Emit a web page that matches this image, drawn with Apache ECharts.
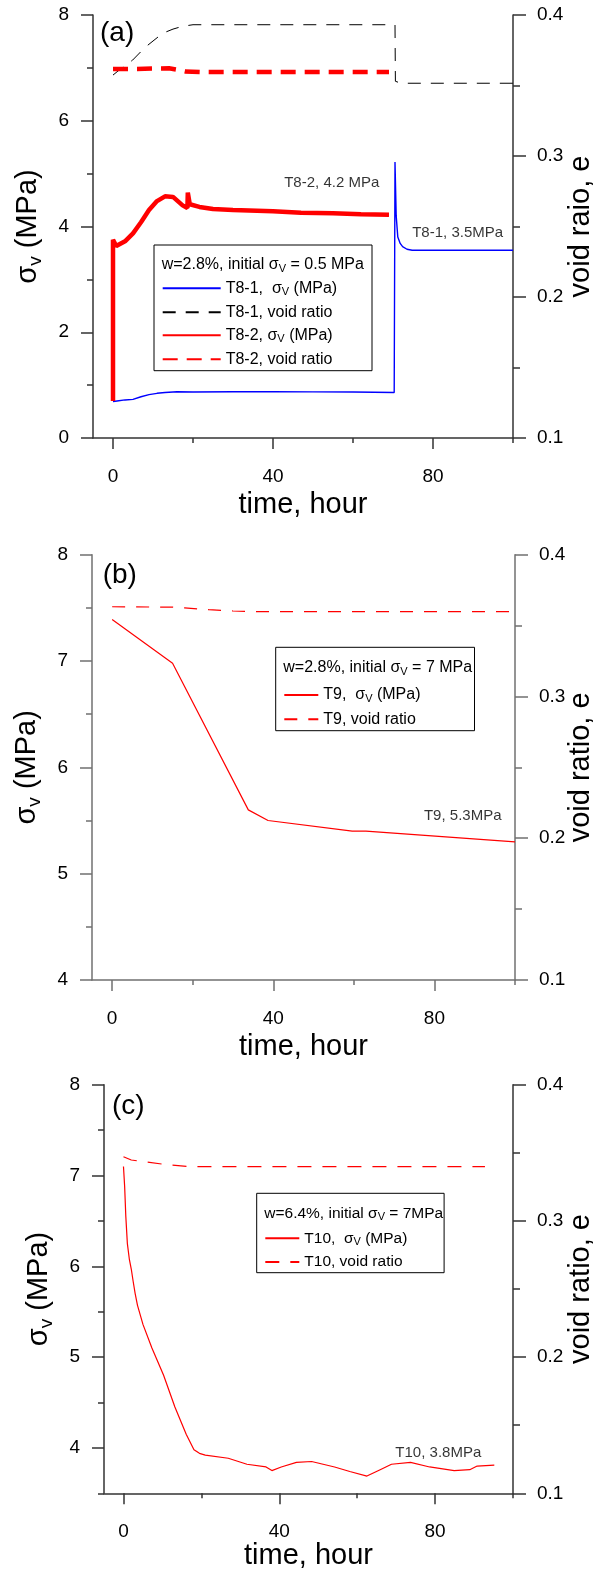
<!DOCTYPE html>
<html>
<head>
<meta charset="utf-8">
<script src="https://cdn.jsdelivr.net/npm/echarts@6/dist/echarts.min.js"></script>
<style>
html,body{margin:0;padding:0;background:#fff;}
#chart{width:596px;height:1573px;}
</style>
</head>
<body>
<div id="chart"></div>
<script>
// ---------------- DATA ----------------
// tick values
const X_MAJOR = [0, 40, 80];
const X_MINOR = [20, 60, 100];
const A_LEFT_MAJOR = [0, 2, 4, 6, 8];
const A_LEFT_MINOR = [1, 3, 5, 7];
const B_LEFT_MAJOR = [4, 5, 6, 7, 8];
const B_LEFT_MINOR = [4.5, 5.5, 6.5, 7.5];
const C_LEFT_MAJOR = [4, 5, 6, 7, 8];
const C_LEFT_MINOR = [3.5, 4.5, 5.5, 6.5, 7.5];
const E_MAJOR = [0.1, 0.2, 0.3, 0.4];
const E_MINOR = [0.15, 0.25, 0.35];

// panel (a): [time (hour), value]
const T8_1_SIGMA = [[0,0.69],[1,0.70],[3,0.72],[5,0.73],[7,0.78],[9,0.82],[11,0.845],[13,0.86],[16,0.875],[20,0.87],[30,0.875],[40,0.878],[50,0.872],[60,0.87],[70.3,0.86],[70.5,5.22],[70.8,4.2],[71.2,3.80],[71.8,3.68],[72.4,3.62],[73.5,3.57],[74.8,3.55],[80,3.55],[100,3.55]];
const T8_1_VOID = [[0,0.3574],[2,0.362],[4.9,0.368],[8,0.377],[12.4,0.387],[15,0.390],[17.4,0.392],[20,0.3931],[40,0.3931],[70.5,0.3931],[70.6,0.353],[72,0.3516],[100,0.3516]];
const T8_2_SIGMA = [[0,0.70],[0,3.75],[0.8,3.63],[3,3.72],[5,3.87],[7,4.08],[9,4.31],[11,4.48],[13,4.57],[15,4.56],[17.4,4.40],[18.6,4.35],[18.7,4.64],[19.2,4.42],[21.6,4.37],[25,4.33],[30,4.31],[40,4.29],[47,4.26],[55,4.25],[62,4.23],[69,4.22]];
const T8_2_VOID = [[0,0.3617],[5,0.3617],[10,0.362],[14,0.3622],[16,0.3612],[18,0.3600],[22,0.3596],[40,0.3596],[69,0.3596]];

// panel (b)
const T9_SIGMA = [[0,7.39],[15,6.98],[33.8,5.60],[38.7,5.50],[59.6,5.40],[63,5.40],[100,5.30]];
const T9_VOID = [[0,0.3633],[15,0.363],[18,0.3625],[24,0.3612],[30,0.3603],[36,0.3598],[99.5,0.3598]];

// panel (c)
const T10_SIGMA = [[0,7.10],[0.3,6.88],[0.6,6.55],[1.0,6.25],[1.5,6.08],[2.0,5.97],[2.5,5.83],[3,5.70],[3.6,5.57],[5,5.36],[7.3,5.10],[10.3,4.80],[13.2,4.45],[16.1,4.15],[18.1,3.98],[19.5,3.94],[21,3.92],[26.9,3.886],[31.7,3.82],[36.6,3.79],[38.1,3.75],[40.5,3.79],[44.4,3.84],[48.3,3.85],[54.2,3.79],[58.1,3.74],[62.5,3.69],[65.9,3.76],[68.8,3.82],[73.7,3.84],[78.6,3.79],[84.9,3.75],[88.9,3.76],[90.8,3.80],[95.2,3.81]];
const T10_VOID = [[0,0.3471],[2,0.3447],[10.3,0.3416],[17.1,0.3398],[50,0.3398],[92.8,0.3398]];

// annotation labels: [time, sigma, text]
const ANNOT_A = [[42.8, 4.82, 'T8-2, 4.2 MPa'], [74.8, 3.875, 'T8-1, 3.5MPa']];
const ANNOT_B = [[77.4, 5.54, 'T9, 5.3MPa']];
const ANNOT_C = [[69.8, 3.947, 'T10, 3.8MPa']];

// ---------------- STYLE / LAYOUT ----------------
const FONT = "'Liberation Sans', Arial, Helvetica, sans-serif";
const GRIDS = [
  {left: 93, top: 15, width: 420, height: 423},
  {left: 92, top: 554.7, width: 423, height: 425.3},
  {left: 104, top: 1084.7, width: 409, height: 408.6}
];
const AXIS_COLORS = ['#333', '#707070', '#333'];
const LEFT_RANGE = [[0, 8], [4, 8], [3.5, 8]];
const LEFT_TICKS = [[A_LEFT_MAJOR, A_LEFT_MINOR], [B_LEFT_MAJOR, B_LEFT_MINOR], [C_LEFT_MAJOR, C_LEFT_MINOR]];
const RIGHT_NAMES = ['void raio, e', 'void ratio, e', 'void ratio, e'];
const X_NAME_GAP = [52, 52, 48];
const RIGHT_NAME_GAP = [53, 51, 53];

const richSub = (big, small, lh) => ({
  n: {fontSize: big, fontFamily: FONT, color: '#000', lineHeight: lh},
  s: {fontSize: small, fontFamily: FONT, color: '#000', lineHeight: Math.round(small * 0.95), verticalAlign: 'bottom'}
});

const xAxis = [], yAxis = [];
GRIDS.forEach((g, i) => {
  const c = AXIS_COLORS[i];
  const line = {color: c, width: 1.5};
  xAxis.push({
    gridIndex: i, type: 'value', min: -5, max: 100, position: 'bottom',
    axisLine: {show: true, onZero: false, lineStyle: line},
    axisTick: {show: true, customValues: X_MAJOR, length: 11, lineStyle: line},
    axisLabel: {show: true, customValues: X_MAJOR, margin: 29, fontSize: 19, color: '#000', fontFamily: FONT},
    splitLine: {show: false},
    name: 'time, hour', nameLocation: 'middle', nameGap: X_NAME_GAP[i], nameMoveOverlap: false,
    nameTextStyle: {fontSize: 29, color: '#000', fontFamily: FONT}
  });
  xAxis.push({
    gridIndex: i, type: 'value', min: -5, max: 100, position: 'bottom',
    axisLine: {show: false, onZero: false},
    axisTick: {show: true, customValues: X_MINOR, length: 5, lineStyle: line},
    axisLabel: {show: false}, splitLine: {show: false}
  });
  const [lmin, lmax] = LEFT_RANGE[i];
  yAxis.push({
    gridIndex: i, type: 'value', min: lmin, max: lmax, position: 'left',
    axisLine: {show: true, onZero: false, lineStyle: line},
    axisTick: {show: true, customValues: LEFT_TICKS[i][0], length: 12, lineStyle: line},
    axisLabel: {show: true, customValues: LEFT_TICKS[i][0], margin: 24, fontSize: 19, color: '#000', fontFamily: FONT},
    splitLine: {show: false},
    name: '{n|σ}{s|v}{n| (MPa)}', nameLocation: 'middle', nameGap: 48, nameMoveOverlap: false,
    nameTextStyle: {rich: richSub(29, 19, 34)}
  });
  yAxis.push({
    gridIndex: i, type: 'value', min: lmin, max: lmax, position: 'left',
    axisLine: {show: false, onZero: false},
    axisTick: {show: true, customValues: LEFT_TICKS[i][1], length: 6, lineStyle: line},
    axisLabel: {show: false}, splitLine: {show: false}
  });
  yAxis.push({
    gridIndex: i, type: 'value', min: 0.1, max: 0.4, position: 'right',
    axisLine: {show: true, onZero: false, lineStyle: line},
    axisTick: {show: true, customValues: E_MAJOR, length: 13, lineStyle: line},
    axisLabel: {show: true, customValues: E_MAJOR, margin: 24, fontSize: 19, color: '#000', fontFamily: FONT,
      formatter: v => v.toFixed(1)},
    splitLine: {show: false},
    name: RIGHT_NAMES[i], nameLocation: 'middle', nameGap: RIGHT_NAME_GAP[i], nameMoveOverlap: false,
    nameTextStyle: {fontSize: 29, color: '#000', fontFamily: FONT}
  });
  yAxis.push({
    gridIndex: i, type: 'value', min: 0.1, max: 0.4, position: 'right',
    axisLine: {show: false, onZero: false},
    axisTick: {show: true, customValues: E_MINOR, length: 7, lineStyle: line},
    axisLabel: {show: false}, splitLine: {show: false}
  });
});

function lineSeries(name, grid, right, data, style) {
  return {
    name, type: 'line', xAxisIndex: grid * 2, yAxisIndex: grid * 4 + (right ? 2 : 0),
    data, showSymbol: false, symbol: 'none', silent: true, animation: false,
    lineStyle: style, z: 3
  };
}
function annotSeries(grid, list) {
  return {
    type: 'scatter', xAxisIndex: grid * 2, yAxisIndex: grid * 4, silent: true, animation: false,
    symbolSize: 0,
    data: list.map(a => ({value: [a[0], a[1]], name: a[2]})),
    label: {show: true, position: 'right', distance: 0, formatter: '{b}', fontSize: 15, color: '#000', fontFamily: FONT}
  };
}

const N = {
  a1s: 'T8-1,  σV (MPa)', a1v: 'T8-1, void ratio', a2s: 'T8-2, σV (MPa)', a2v: 'T8-2, void ratio',
  bs: 'T9,  σV (MPa)', bv: 'T9, void ratio', cs: 'T10,  σV (MPa)', cv: 'T10, void ratio'
};
const LEGEND_RICH = {
  [N.a1s]: '{n|T8-1,  σ}{s|V}{n| (MPa)}', [N.a1v]: '{n|T8-1, void ratio}',
  [N.a2s]: '{n|T8-2, σ}{s|V}{n| (MPa)}', [N.a2v]: '{n|T8-2, void ratio}',
  [N.bs]: '{n|T9,  σ}{s|V}{n| (MPa)}', [N.bv]: '{n|T9, void ratio}',
  [N.cs]: '{n|T10,  σ}{s|V}{n| (MPa)}', [N.cv]: '{n|T10, void ratio}'
};

const series = [
  lineSeries(N.a1s, 0, false, T8_1_SIGMA, {color: '#0000ff', width: 1.4}),
  lineSeries(N.a1v, 0, true, T8_1_VOID, {color: '#000', width: 1, type: [13, 10]}),
  lineSeries(N.a2s, 0, false, T8_2_SIGMA, {color: '#ff0000', width: 4.5}),
  lineSeries(N.a2v, 0, true, T8_2_VOID, {color: '#ff0000', width: 4.5, type: [15, 9]}),
  lineSeries(N.bs, 1, false, T9_SIGMA, {color: '#ff0000', width: 1.2}),
  lineSeries(N.bv, 1, true, T9_VOID, {color: '#ff0000', width: 1.2, type: [13, 11]}),
  lineSeries(N.cs, 2, false, T10_SIGMA, {color: '#ff0000', width: 1.2}),
  lineSeries(N.cv, 2, true, T10_VOID, {color: '#ff0000', width: 1.2, type: [14, 11]}),
  annotSeries(0, ANNOT_A), annotSeries(1, ANNOT_B), annotSeries(2, ANNOT_C)
];

function legend(names, left, top, itemWidth, gap, fs) {
  return {
    orient: 'vertical', left, top, padding: 0, itemWidth, itemHeight: 14, itemGap: gap,
    data: names, selectedMode: false, itemStyle: {opacity: 0},
    formatter: n => LEGEND_RICH[n],
    textStyle: {rich: richSub(fs, Math.round(fs * 0.7), 18)}
  };
}

const LEG_BOXES = [
  {x: 154, y: 245, w: 218, h: 125.7, tx: 161.7, ty: 265, fs: 16, title: '{n|w=2.8%, initial σ}{s|V}{n| = 0.5 MPa}'},
  {x: 275.7, y: 647.3, w: 198.8, h: 83.4, tx: 283.3, ty: 668, fs: 16, title: '{n|w=2.8%, initial σ}{s|V}{n| = 7 MPa}'},
  {x: 256.7, y: 1193.3, w: 187.4, h: 79.4, tx: 264.3, ty: 1213.5, fs: 15.5, title: '{n|w=6.4%, initial σ}{s|V}{n| = 7MPa}'}
];
const PANEL_LABELS = [['(a)', 100, 33.5], ['(b)', 102.7, 575], ['(c)', 112, 1106.7]];

const graphic = [];
LEG_BOXES.forEach(b => {
  graphic.push({type: 'rect', shape: {x: b.x, y: b.y, width: b.w, height: b.h}, style: {fill: 'none', stroke: '#000', lineWidth: 1}, silent: true});
  graphic.push({type: 'text', x: b.tx, y: b.ty, silent: true,
    style: {text: b.title, verticalAlign: 'middle', align: 'left', rich: richSub(b.fs, Math.round(b.fs * 0.7), 18)}});
});
PANEL_LABELS.forEach(p => {
  graphic.push({type: 'text', x: p[1], y: p[2], silent: true,
    style: {text: p[0], fontSize: 28, fontFamily: FONT, fill: '#000', verticalAlign: 'middle', align: 'left'}});
});

const option = {
  animation: false,
  backgroundColor: '#fff',
  textStyle: {fontFamily: FONT},
  grid: GRIDS.map(g => Object.assign({containLabel: false, outerBoundsMode: 'none'}, g)),
  xAxis, yAxis, series, graphic,
  legend: [
    legend([N.a1s, N.a1v, N.a2s, N.a2v], 161.7, 280.2, 58, 7, 16),
    legend([N.bs, N.bv], 283.3, 687, 34, 7.2, 16),
    legend([N.cs, N.cv], 264.3, 1230.3, 34, 6.8, 15.5)
  ]
};

const chart = echarts.init(document.getElementById('chart'), null, {renderer: 'canvas', width: 596, height: 1573});
chart.setOption(option);
</script>
</body>
</html>
